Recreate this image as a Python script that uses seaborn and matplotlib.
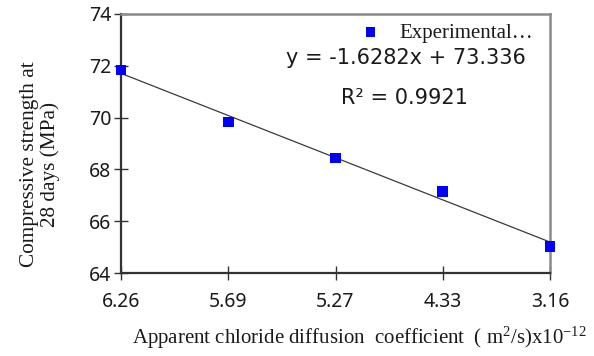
import numpy as np
import pandas as pd
import matplotlib
matplotlib.use("Agg")
import matplotlib.pyplot as plt
import seaborn as sns

# Apparent chloride diffusion coefficient (x10^-12 m^2/s), plotted as ordered categories
diffusion_labels = ["6.26", "5.69", "5.27", "4.33", "3.16"]
category_index = [1, 2, 3, 4, 5]
# 28-day compressive strength (MPa)
strength = [71.84, 69.83, 68.44, 67.14, 65.02]

# Linear trendline reported for the series
slope = -1.6282
intercept = 73.336
r_squared = 0.9921

df = pd.DataFrame({"idx": category_index, "strength": strength})
trend = pd.DataFrame({"idx": category_index,
                      "fit": [slope * x + intercept for x in category_index]})

sns.set_theme(style="white")
plt.rcParams["mathtext.fontset"] = "custom"
plt.rcParams["mathtext.rm"] = "Liberation Serif"
plt.rcParams["mathtext.it"] = "Liberation Serif:italic"

fig = plt.figure(figsize=(5.94, 3.56), dpi=100)
ax = fig.add_axes([0.2037, 0.2331, 0.7223, 0.7276])

sns.lineplot(data=trend, x="idx", y="fit", ax=ax, color="#3a3a3a",
             linewidth=0.9, legend=False)
sns.scatterplot(data=df, x="idx", y="strength", ax=ax, marker="s", s=60,
                color="#0000ff", edgecolor="none", label="Experimental\u2026",
                clip_on=False, zorder=5)

ax.set_xlim(1, 5)
ax.set_ylim(64, 74)
ax.set_xticks(category_index)
ax.set_xticklabels(diffusion_labels)
ax.set_yticks([64, 66, 68, 70, 72, 74])

for lab in ax.get_xticklabels() + ax.get_yticklabels():
    lab.set_fontfamily("Noto Sans")
    lab.set_fontsize(14)
    lab.set_color("#1a1a1a")

ax.tick_params(axis="both", direction="inout", length=10, width=1.0,
               color="#333333", left=True, bottom=True)
ax.tick_params(axis="x", pad=9)
ax.tick_params(axis="y", pad=2)

for side in ["left", "bottom"]:
    ax.spines[side].set_color("#333333")
    ax.spines[side].set_linewidth(1.6)
for side in ["top", "right"]:
    ax.spines[side].set_color("#8a8a8a")
    ax.spines[side].set_linewidth(1.8)

ax.set_ylabel("Compressive strength at\n28 days (MPa)", family="Liberation Serif",
              fontsize=15.3, color="#1a1a1a", linespacing=1.1)
ax.yaxis.set_label_coords(-0.142, 0.42)
ax.set_xlabel(r"Apparent chloride diffusion  coefficient  ( m$^{2}$/s)x10$^{-12}$",
              family="Liberation Serif", fontsize=15, color="#1a1a1a")
ax.xaxis.set_label_coords(0.555, -0.2)

ax.text(0.664, 0.83, f"y = {slope}x + {intercept}", transform=ax.transAxes,
        ha="center", va="center", family="DejaVu Sans", fontsize=15, color="#1a1a1a")
ax.text(0.66, 0.676, f"R\u00b2 = {r_squared}", transform=ax.transAxes,
        ha="center", va="center", family="DejaVu Sans", fontsize=15, color="#1a1a1a")

leg = ax.legend(loc="center left", bbox_to_anchor=(0.557, 0.927), frameon=False,
                prop={"family": "Liberation Serif", "size": 15},
                handlelength=1.0, handletextpad=0.87, markerscale=0.9,
                borderpad=0, borderaxespad=0)
for t in leg.get_texts():
    t.set_color("#1a1a1a")

fig.savefig("out.png", dpi=100, facecolor="white")
